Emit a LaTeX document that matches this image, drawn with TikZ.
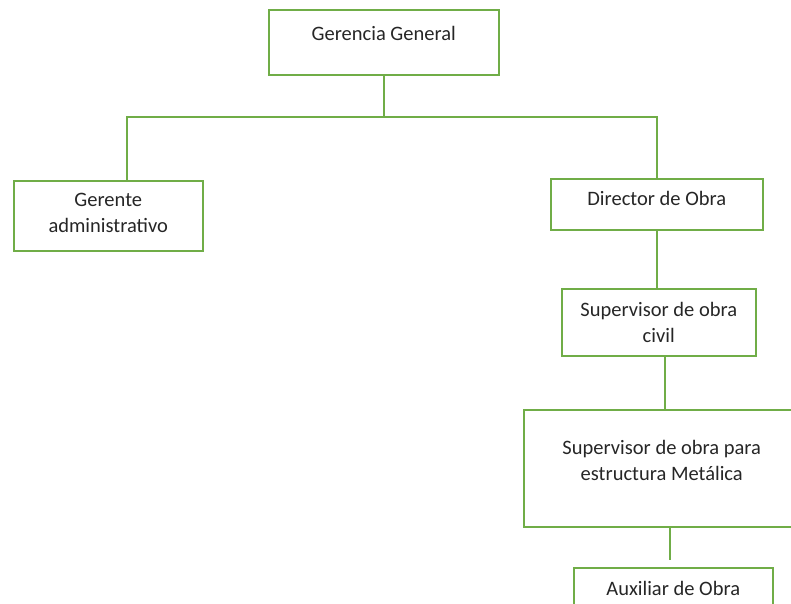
\documentclass[tikz,border=0pt]{standalone}
\usepackage{fontspec}
\setmainfont{Carlito}
\usepackage{tikz}
\usetikzlibrary{positioning}

\begin{document}
\begin{tikzpicture}[x=1pt, y=-1pt, line width=1.5pt,
            every node/.style={draw=orggreen, line width=1.5pt, anchor=north west, inner sep=0pt},
            txt/.style={draw=none, anchor=center, align=center, text=black!85, font=\fontsize{20.5}{26.5}\selectfont}]
            \definecolor{orggreen}{RGB}{112,173,71}
            \useasboundingbox (0,0) rectangle (791,603);
            \clip (0,0) rectangle (791,603);
            % cajas
            \node[minimum width=230, minimum height=65] (gg) at (268,9) {};
            \node[minimum width=189, minimum height=70] (ga) at (13,180) {};
            \node[minimum width=212, minimum height=51] (dobra) at (550,178) {};
            \node[minimum width=194, minimum height=67] (sciv) at (561,288) {};
            \node[minimum width=276, minimum height=117] (smet) at (523,409) {};
            \node[minimum width=199, minimum height=50] (aux) at (573,567) {};
            % textos
            \node[txt] (ggt) at ([yshift=-24]gg.north) {Gerencia General};
            \node[txt] (gat) at ([yshift=-33]ga.north) {Gerente\\administrativo};
            \node[txt] (dobrat) at ([yshift=-20]dobra.north) {Director de Obra};
            \node[txt] (scivt) at ([yshift=-34.5]sciv.north) {Supervisor de obra\\civil};
            \node[txt] (smett) at ([yshift=-51.5]smet.north) {Supervisor de obra para\\estructura Metálica};
            \node[txt] (auxt) at ([yshift=-21]aux.north) {Auxiliar de Obra};
            % lineas
            \coordinate (fork) at (gg.south |- 0,117);
            \draw[orggreen] (gg.south) -- (fork);
            \draw[orggreen] ([xshift=18.5]ga.north) |- (fork) -| (dobra.north);
            \draw[orggreen] (dobra.south) -- (dobra.south |- sciv.north);
            \draw[orggreen] ([xshift=6]sciv.south) -- ([xshift=6]sciv.south |- smet.north);
            \draw[orggreen] ([xshift=8]smet.south) -- ([xshift=8,yshift=7]smet.south |- aux.north);
          \end{tikzpicture}
\end{document}
